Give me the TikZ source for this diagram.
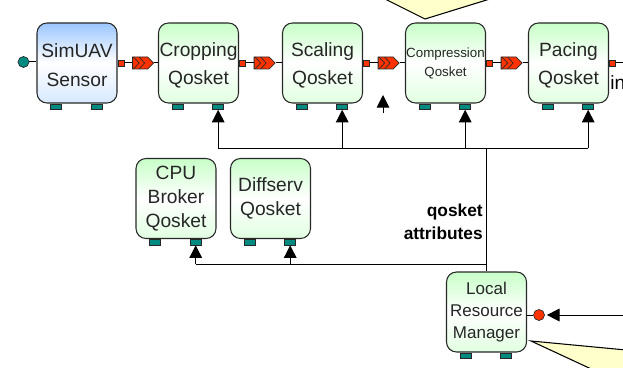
\documentclass[tikz,border=0pt]{standalone}
\usepackage{fontspec}
\setmainfont{Liberation Sans}
\usepackage{tikz}
\usetikzlibrary{arrows.meta,positioning,shapes.symbols}

\definecolor{qgreen}{RGB}{200,255,200}
\definecolor{sblue}{RGB}{155,198,255}
\definecolor{footteal}{RGB}{0,138,128}
\definecolor{portred}{RGB}{255,51,0}
\definecolor{noteyellow}{RGB}{255,255,204}
\definecolor{boxline}{RGB}{40,40,40}

\begin{document}
\begin{tikzpicture}[x=0.75pt,y=0.75pt,yscale=-1,xscale=1,
  qbox/.style={draw=boxline,line width=0.8pt,rounded corners=7.5pt,minimum width=60pt,minimum height=60pt,inner sep=0pt,align=center,top color=qgreen,bottom color=qgreen!55,middle color=white,text=black!85,font=\fontsize{14.4pt}{21.6pt}\selectfont},
  topbox/.style={qbox,text height=35.5pt},
  sbox/.style={topbox,top color=sblue,bottom color=sblue!40,middle color=white},
  foot/.style={draw=boxline,fill=footteal,minimum width=8.25pt,minimum height=4.2pt,inner sep=0pt,line width=0.5pt},
  outport/.style={draw=boxline,fill=portred,minimum size=4.5pt,inner sep=0pt,line width=0.5pt},
  inport/.style={circle,draw=boxline,fill=portred,minimum size=8.25pt,inner sep=0pt,line width=0.5pt},
  tag/.style={signal,signal to=east,draw=boxline,fill=portred,minimum width=15.75pt,minimum height=9pt,inner sep=0pt,line width=0.6pt},
  wire/.style={line width=0.75pt,black},
  ctl/.style={wire,-{Triangle[length=9.5pt,width=9.5pt]}},
  note/.style={draw=black,fill=noteyellow,line width=0.8pt}]
\useasboundingbox (0,0) rectangle (623,367);
\clip (0,0) rectangle (623,367);

%Callouts
\draw[note] (367,-10) -- (425,19) -- (519,-10) -- cycle;
\draw[note] (531,341) -- (700,357) -- (700,400) -- (658,400) -- cycle;

%Components
\node[sbox] (sensor) at (77,63) {SimUAV\\Sensor};
\node[topbox] (crop) at (198.5,63) {Cropping\\Qosket};
\node[topbox] (scale) at (322.5,63) {Scaling\\Qosket};
\node[qbox,text height=22.5pt,font=\fontsize{10pt}{14.25pt}\selectfont] (comp) at (445.5,63) {Compression\\Qosket};
\node[topbox] (pace) at (568.5,63) {Pacing\\Qosket};
\node[qbox,font=\fontsize{14.4pt}{18pt}\selectfont] (cpu) at (176,198.5) {CPU\\Broker\\Qosket};
\node[qbox,font=\fontsize{14.4pt}{18pt}\selectfont] (diff) at (270.5,198.5) {Diffserv\\Qosket};
\node[qbox,font=\fontsize{12.75pt}{16.5pt}\selectfont] (lrm) at (486.5,312) {Local\\Resource\\Manager};

\foreach \b in {sensor,crop,scale,comp,pace,cpu,diff,lrm}{
  \node[foot,anchor=north west] (\b-lf) at ([xshift=10.5pt]\b.south west) {};
  \node[foot,anchor=north east] (\b-rf) at ([xshift=-11.25pt]\b.south east) {};
}

%Data flow
\node[inport,fill=footteal] (sensor-in) at (23.5,62) {};
\draw[wire] (sensor-in) -- (sensor.west |- sensor-in);
\foreach \a/\b in {sensor/crop,crop/scale,scale/comp,comp/pace}{
  \node[outport,anchor=west] (\a-out) at (\a.east) {};
  \node[tag,right=6pt of \a-out] (\a-tag) {};
  \draw[wire] (\a-out) -- (\a-tag);
  \draw[wire] (\a-tag) -- (\b);
}
\node[outport,anchor=west] (pace-out) at (pace.east) {};
\node[tag,right=6pt of pace-out] (pace-tag) {};
\draw[wire] (pace-out) -- (pace-tag);
\foreach \t in {sensor-tag,crop-tag,scale-tag,comp-tag,pace-tag}{
  \draw[line width=0.5pt,boxline] ([shift={(-4.9pt,4.5pt)}]\t.center) -- ([xshift=-0.75pt]\t.center) -- ([shift={(-4.9pt,-4.5pt)}]\t.center);
  \draw[line width=0.5pt,boxline] ([shift={(-0.75pt,4.5pt)}]\t.center) -- ([xshift=3.4pt]\t.center) -- ([shift={(-0.75pt,-4.5pt)}]\t.center);
}
\node[font=\fontsize{14.4pt}{17pt}\selectfont,anchor=base west,inner sep=0pt] (intext) at (610,90) {in};

%Control lines
\coordinate (topbus) at (0,148);
\coordinate (lowbus) at (0,264);
\draw[wire] (crop-rf |- topbus) -- (pace-rf |- topbus);
\foreach \b in {crop,scale,comp,pace}
  \draw[ctl] (\b-rf |- topbus) -- (\b-rf.south);
\draw[wire] (lrm.north |- topbus) -- (lrm.north);
\draw[wire] (cpu-rf |- lowbus) -- (lrm.north |- lowbus);
\foreach \b in {cpu,diff}
  \draw[ctl] (\b-rf |- lowbus) -- (\b-rf.south);
\coordinate (stray-a) at (383,113);
\coordinate (stray-b) at (383,95);
\draw[ctl] (stray-a) -- (stray-b);

\node[font=\bfseries\fontsize{13pt}{17.25pt}\selectfont,align=right,anchor=south east,inner sep=0pt] (attrs) at (483,240) {qosket\\attributes};

%Resource input
\node[inport] (lrm-in) at (539,315) {};
\draw[wire] (lrm.east |- lrm-in) -- (lrm-in);
\coordinate (lrm-src) at (640,315);
\draw[ctl,shorten >=1.5pt] (lrm-src) -- (lrm-in);
\end{tikzpicture}
\end{document}
